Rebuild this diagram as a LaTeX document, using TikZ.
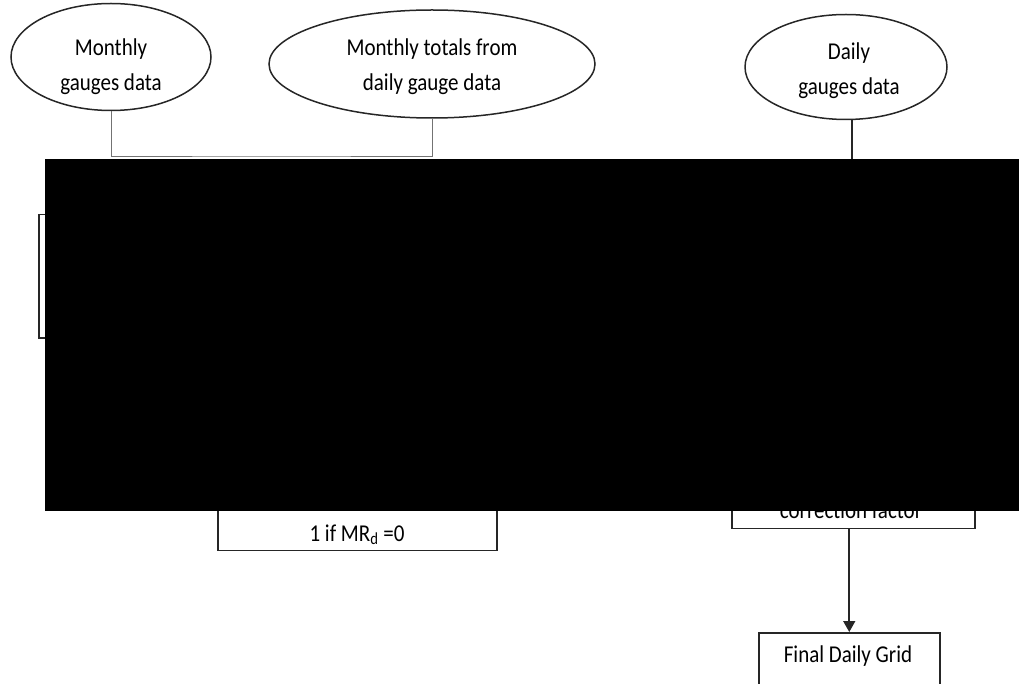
\documentclass[tikz,border=0pt]{standalone}
\usepackage{fontspec}
\setmainfont{Carlito}
\usetikzlibrary{shapes.geometric,arrows.meta}

% labels are set slightly taller than wide
\newcommand{\tallbox}[1]{\scalebox{1}[1.15]{\begin{tabular}{@{}c@{}}#1\end{tabular}}}

\tikzset{
  oval/.style={ellipse, draw=black!85, line width=1.5pt, inner sep=0pt},
  stepbox/.style={rectangle, draw=black!85, line width=1.5pt, inner sep=0pt},
  lbl/.style={font=\fontsize{21}{30}\selectfont, align=center, text=black, inner sep=0pt},
  feed/.style={draw=black!55, line width=0.9pt},
  link/.style={draw=black!85, line width=1.6pt},
  flow/.style={link, -{Triangle[width=12pt,length=11pt]}},
}

\begin{document}
\begin{tikzpicture}[x=1pt,y=-1pt]
\useasboundingbox (0,0) rectangle (1019,684);
\clip (0,0) rectangle (1019,684);

% input data sources
\node[oval, minimum width=200, minimum height=107] (mg) at (111,57) {};
\node[lbl] (mgt) at (111,66) {\tallbox{Monthly\\gauges data}};

\node[oval, minimum width=326, minimum height=108] (md) at (432,64) {};
\node[lbl] (mdt) at (432,66) {\tallbox{Monthly totals from\\daily gauge data}};

\node[oval, minimum width=202, minimum height=105] (dg) at (846,67) {};
\node[lbl] (dgt) at (849,70) {\tallbox{Daily\\gauges data}};

% processing boxes
\node[stepbox, anchor=north west, minimum width=262, minimum height=123] (bx1) at (38,214) {};
\node[stepbox, anchor=south west, minimum width=279, minimum height=110] (mr) at (217,551) {};
\node[lbl, anchor=base] (mrt) at (357,541) {\scalebox{1}[1.15]{1 if MR\textsubscript{d} =0}};

\node[stepbox, anchor=south west, minimum width=243, minimum height=110] (cf) at (731,529) {};
\node[lbl, anchor=base] (cft) at (851,518.5) {\scalebox{1}[1.15]{correction factor}};

\node[stepbox, anchor=north west, minimum width=181, minimum height=90] (fg) at (758,632) {};
\node[lbl, anchor=base] (fgt) at (848,662) {\scalebox{1}[1.15]{Final Daily Grid}};

% connectors
\coordinate (join) at (271,156);
\draw[feed] (mg.south) |- (join) -| (md.south);
\coordinate (dlink) at (852,170);
\draw[link] (dg.south -| dlink) -- (dlink);
\draw[flow] (cf.south -| fg.north) -- (fg.north);

% redaction block
\fill[black] (45,159) rectangle (1019,511);
\end{tikzpicture}
\end{document}
